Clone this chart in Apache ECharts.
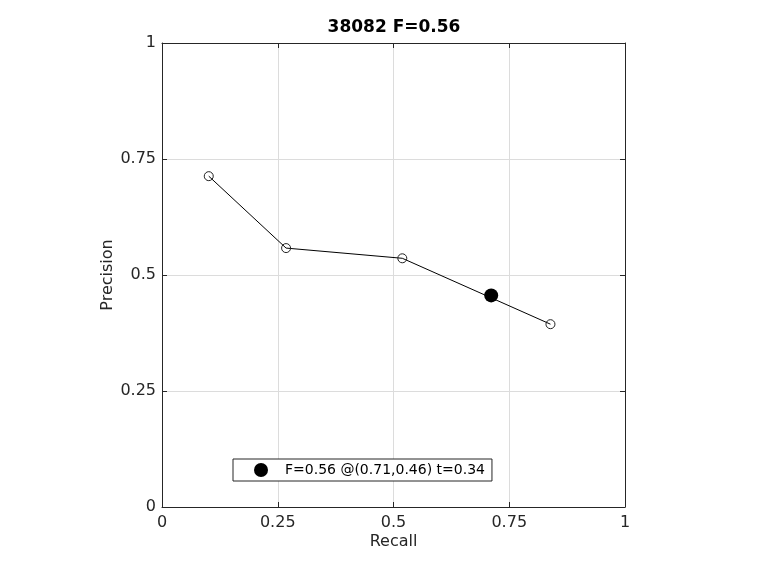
<!DOCTYPE html>
<html>
<head>
<meta charset="utf-8">
<script src="https://cdn.jsdelivr.net/npm/echarts@6/dist/echarts.min.js"></script>
<style>html,body{margin:0;padding:0;background:#fff}#c{width:760px;height:570px}</style>
</head>
<body>
<div id="c"></div>
<script>
const titleText = '38082 F=0.56';
const recall = [0.101, 0.268, 0.519, 0.839];
const precision = [0.713, 0.558, 0.536, 0.394];
const bestPoint = [0.711, 0.456];
const bestLabel = 'F=0.56 @(0.71,0.46) t=0.34';
const xName = 'Recall';
const yName = 'Precision';

const font = 'DejaVu Sans';
const axisCol = '#262626';
const chart = echarts.init(document.getElementById('c'), null, {renderer: 'canvas'});

function valAxis(extra) {
  return Object.assign({
    type: 'value', min: 0, max: 1, interval: 0.25,
    axisLine: {show: true, onZero: false, lineStyle: {color: axisCol, width: 1}},
    axisTick: {show: true, inside: true, length: 5, lineStyle: {color: axisCol}},
    splitLine: {show: false},
    axisLabel: {show: false}
  }, extra);
}

chart.setOption({
  animation: false,
  backgroundColor: '#fff',
  graphic: [{
    type: 'text', x: 394, y: 28, z: 10,
    style: {text: titleText, fontFamily: font, fontSize: 17, fontWeight: 'bold',
      fill: '#000', align: 'center', verticalAlign: 'middle'}
  }],
  grid: {left: 162, top: 43, width: 463, height: 464, containLabel: false},
  legend: {
    data: [{name: bestLabel, icon: 'circle'}],
    left: 233, top: 459,
    backgroundColor: '#fff', borderColor: axisCol, borderWidth: 1, borderRadius: 0,
    padding: [4, 7, 4, 21],
    itemWidth: 14, itemHeight: 14,
    textStyle: {fontFamily: font, fontSize: 14, color: '#000', padding: [0, 0, 0, 12]}
  },
  xAxis: [
    valAxis({
      position: 'bottom',
      name: xName, nameLocation: 'middle', nameGap: 27, nameMoveOverlap: false,
      nameTextStyle: {fontFamily: font, fontSize: 16, color: axisCol},
      splitLine: {show: true, lineStyle: {color: '#dcdcdc', width: 1}},
      axisLabel: {show: true, fontFamily: font, fontSize: 16, color: axisCol, margin: 8,
        formatter: v => String(+v.toFixed(2))}
    }),
    valAxis({position: 'top'})
  ],
  yAxis: [
    valAxis({
      position: 'left',
      name: yName, nameLocation: 'middle', nameGap: 46, nameMoveOverlap: false,
      nameTextStyle: {fontFamily: font, fontSize: 16, color: axisCol},
      splitLine: {show: true, lineStyle: {color: '#dcdcdc', width: 1}},
      axisLabel: {show: true, fontFamily: font, fontSize: 16, color: axisCol, margin: 6,
        formatter: v => String(+v.toFixed(2))}
    }),
    valAxis({position: 'right'})
  ],
  series: [
    {
      type: 'line',
      data: recall.map((r, i) => [r, precision[i]]),
      symbol: 'circle', symbolSize: 9,
      lineStyle: {color: '#000', width: 1},
      itemStyle: {color: 'rgba(0,0,0,0)', borderColor: '#222', borderWidth: 1},
      emphasis: {disabled: true},
      z: 3
    },
    {
      name: bestLabel,
      type: 'scatter',
      data: [bestPoint],
      symbol: 'circle', symbolSize: 14,
      itemStyle: {color: '#000', opacity: 1},
      emphasis: {disabled: true},
      z: 4
    }
  ]
});
</script>
</body>
</html>
